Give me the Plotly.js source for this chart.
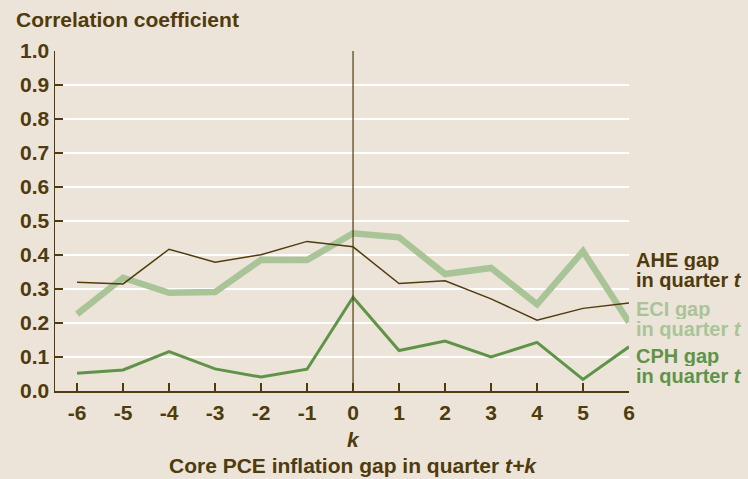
<!DOCTYPE html>
<html>
<head>
<meta charset="utf-8">
<script src="https://cdn.plot.ly/plotly-3.0.1.min.js"></script>
<style>
  html, body { margin: 0; padding: 0; background: #ece4d9; }
  #chart { width: 748px; height: 479px; }
</style>
</head>
<body>
<div id="chart"></div>
<script>
const kValues = [-6, -5, -4, -3, -2, -1, 0, 1, 2, 3, 4, 5, 6];
const aheGap = [0.320, 0.315, 0.417, 0.379, 0.401, 0.440, 0.424, 0.316, 0.324, 0.271, 0.208, 0.243, 0.259];
const eciGap = [0.226, 0.333, 0.289, 0.291, 0.386, 0.385, 0.464, 0.452, 0.344, 0.362, 0.255, 0.411, 0.202];
const cphGap = [0.052, 0.062, 0.116, 0.065, 0.041, 0.064, 0.276, 0.119, 0.147, 0.100, 0.143, 0.034, 0.130];
const yTickVals = [0, 0.1, 0.2, 0.3, 0.4, 0.5, 0.6, 0.7, 0.8, 0.9, 1.0];
const yTickText = ["0.0", "0.1", "0.2", "0.3", "0.4", "0.5", "0.6", "0.7", "0.8", "0.9", "1.0"];
const xTickText = ["-6", "-5", "-4", "-3", "-2", "-1", "0", "1", "2", "3", "4", "5", "6"];
const seriesLabels = [["AHE gap", "in quarter <i>t</i>"], ["ECI gap", "in quarter <i>t</i>"], ["CPH gap", "in quarter <i>t</i>"]];

const FONT = '"Liberation Sans", Arial, sans-serif';
const BROWN = '#4f3b0c';
const LIGHTGREEN = '#a9c598';
const GREEN = '#5f9448';
const BG = '#ece4d9';

const traces = [
  { x: kValues, y: eciGap, mode: 'lines', line: { color: LIGHTGREEN, width: 6.5 }, hoverinfo: 'skip' },
  { x: kValues, y: cphGap, mode: 'lines', line: { color: GREEN, width: 3 }, hoverinfo: 'skip' },
  { x: kValues, y: aheGap, mode: 'lines', line: { color: BROWN, width: 1.5 }, hoverinfo: 'skip' }
];

const labelColors = [BROWN, LIGHTGREEN, GREEN];
// vertical pixel offsets (from the x axis line) of each label line's centre
const labelShift = [[131, 111], [82, 62], [35, 15]];
const annotations = [];
seriesLabels.forEach((lines, i) => {
  lines.forEach((txt, j) => {
    annotations.push({
      xref: 'paper', yref: 'paper', x: 1, y: 0, xshift: 5, yshift: labelShift[i][j],
      xanchor: 'left', yanchor: 'middle', height: 20,
      text: '<b>' + txt + '</b>', showarrow: false,
      font: { family: FONT, size: 20, color: labelColors[i] }
    });
  });
});
annotations.push({
  xref: 'paper', yref: 'paper', x: 0, y: 1, xshift: -41, yshift: 32, xanchor: 'left', yanchor: 'middle',
  text: '<b>Correlation coefficient</b>', showarrow: false,
  font: { family: FONT, size: 21, color: BROWN }
});
annotations.push({
  xref: 'x', yref: 'paper', x: 0, y: 0, yshift: -48, xanchor: 'center', yanchor: 'middle',
  text: '<b><i>k</i></b>', showarrow: false,
  font: { family: FONT, size: 21, color: BROWN }
});
annotations.push({
  xref: 'x', yref: 'paper', x: 0, y: 0, yshift: -74, xanchor: 'center', yanchor: 'middle',
  text: '<b>Core PCE inflation gap in quarter <i>t+k</i></b>', showarrow: false,
  font: { family: FONT, size: 21, color: BROWN }
});

const layout = {
  width: 748, height: 479,
  paper_bgcolor: BG, plot_bgcolor: BG,
  margin: { l: 55, r: 119, t: 51, b: 88 },
  showlegend: false,
  font: { family: FONT, color: BROWN },
  xaxis: {
    range: [-6.48, 6.0], tickvals: kValues, ticktext: xTickText,
    ticks: 'inside', ticklen: 8, tickwidth: 1.5, tickcolor: BROWN,
    showgrid: false, zeroline: false,
    showline: true, linecolor: BROWN, linewidth: 1.5,
    tickfont: { family: FONT, size: 21, color: BROWN, weight: 'bold' },
    ticklabelstandoff: 2
  },
  yaxis: {
    range: [0, 1.0], tickvals: yTickVals, ticktext: yTickText,
    ticks: 'inside', ticklen: 8, tickwidth: 1.5, tickcolor: BROWN,
    showgrid: true, gridcolor: '#ffffff', gridwidth: 1.5,
    zeroline: false,
    showline: true, linecolor: BROWN, linewidth: 1.5,
    tickfont: { family: FONT, size: 21, color: BROWN, weight: 'bold' },
    ticklabelstandoff: 0
  },
  shapes: [
    { type: 'line', xref: 'x', yref: 'paper', x0: 0, x1: 0, y0: 0, y1: 1, line: { color: BROWN, width: 1.2 }, layer: 'above' }
  ],
  annotations: annotations
};

Plotly.newPlot('chart', traces, layout, { displayModeBar: false, staticPlot: true });
</script>
</body>
</html>
